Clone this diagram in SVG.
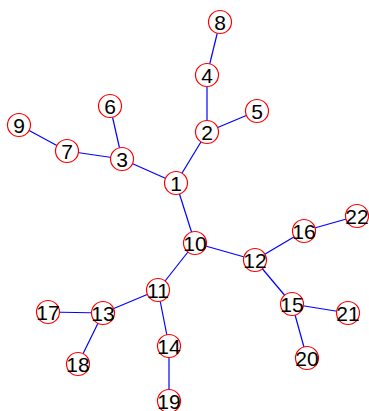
<svg xmlns="http://www.w3.org/2000/svg" width="369" height="411" viewBox="0 0 369 411">
<style>
.e{stroke:#0000ff;stroke-width:1.2;fill:none}
.n circle{fill:#fff;stroke:#ff0000;stroke-width:1.2}
.n text{font-family:"Liberation Sans",Arial,sans-serif;font-size:21px;fill:#000;text-anchor:middle}
</style>
<rect width="369" height="411" fill="#fff"/>
<g id="edges" class="e">
<line x1="176" y1="183" x2="207" y2="132"/>
<line x1="176" y1="183" x2="122" y2="159"/>
<line x1="176" y1="183" x2="195" y2="243"/>
<line x1="207" y1="132" x2="207" y2="75"/>
<line x1="207" y1="132" x2="257" y2="111"/>
<line x1="207" y1="75" x2="220" y2="22"/>
<line x1="122" y1="159" x2="110" y2="106"/>
<line x1="122" y1="159" x2="67" y2="151"/>
<line x1="67" y1="151" x2="19" y2="125"/>
<line x1="195" y1="243" x2="158" y2="290"/>
<line x1="195" y1="243" x2="255" y2="260"/>
<line x1="158" y1="290" x2="103" y2="313"/>
<line x1="158" y1="290" x2="169" y2="346"/>
<line x1="103" y1="313" x2="48" y2="312"/>
<line x1="103" y1="313" x2="78" y2="364"/>
<line x1="169" y1="346" x2="169" y2="401"/>
<line x1="255" y1="260" x2="304" y2="231"/>
<line x1="255" y1="260" x2="292" y2="304"/>
<line x1="304" y1="231" x2="357" y2="216"/>
<line x1="292" y1="304" x2="348" y2="313"/>
<line x1="292" y1="304" x2="307" y2="358"/>
</g>
<g id="n1" class="n"><circle cx="176" cy="183" r="11.5"/><text x="176" y="191">1</text></g>
<g id="n2" class="n"><circle cx="207" cy="132" r="11.5"/><text x="207" y="140">2</text></g>
<g id="n3" class="n"><circle cx="122" cy="159" r="11.5"/><text x="122" y="167">3</text></g>
<g id="n4" class="n"><circle cx="207" cy="75" r="11.5"/><text x="207" y="83">4</text></g>
<g id="n5" class="n"><circle cx="257" cy="111" r="11.5"/><text x="257" y="119">5</text></g>
<g id="n6" class="n"><circle cx="110" cy="106" r="11.5"/><text x="110" y="114">6</text></g>
<g id="n7" class="n"><circle cx="67" cy="151" r="11.5"/><text x="67" y="159">7</text></g>
<g id="n8" class="n"><circle cx="220" cy="22" r="11.5"/><text x="220" y="30">8</text></g>
<g id="n9" class="n"><circle cx="19" cy="125" r="11.5"/><text x="19" y="133">9</text></g>
<g id="n10" class="n"><circle cx="195" cy="243" r="11.5"/><text x="195" y="251">10</text></g>
<g id="n11" class="n"><circle cx="158" cy="290" r="11.5"/><text x="158" y="298">11</text></g>
<g id="n12" class="n"><circle cx="255" cy="260" r="11.5"/><text x="255" y="268">12</text></g>
<g id="n13" class="n"><circle cx="103" cy="313" r="11.5"/><text x="103" y="321">13</text></g>
<g id="n14" class="n"><circle cx="169" cy="346" r="11.5"/><text x="169" y="354">14</text></g>
<g id="n15" class="n"><circle cx="292" cy="304" r="11.5"/><text x="292" y="312">15</text></g>
<g id="n16" class="n"><circle cx="304" cy="231" r="11.5"/><text x="304" y="239">16</text></g>
<g id="n17" class="n"><circle cx="48" cy="312" r="11.5"/><text x="48" y="320">17</text></g>
<g id="n18" class="n"><circle cx="78" cy="364" r="11.5"/><text x="78" y="372">18</text></g>
<g id="n19" class="n"><circle cx="169" cy="401" r="11.5"/><text x="169" y="409">19</text></g>
<g id="n20" class="n"><circle cx="307" cy="358" r="11.5"/><text x="307" y="366">20</text></g>
<g id="n21" class="n"><circle cx="348" cy="313" r="11.5"/><text x="348" y="321">21</text></g>
<g id="n22" class="n"><circle cx="357" cy="216" r="11.5"/><text x="357" y="224">22</text></g>
</svg>
